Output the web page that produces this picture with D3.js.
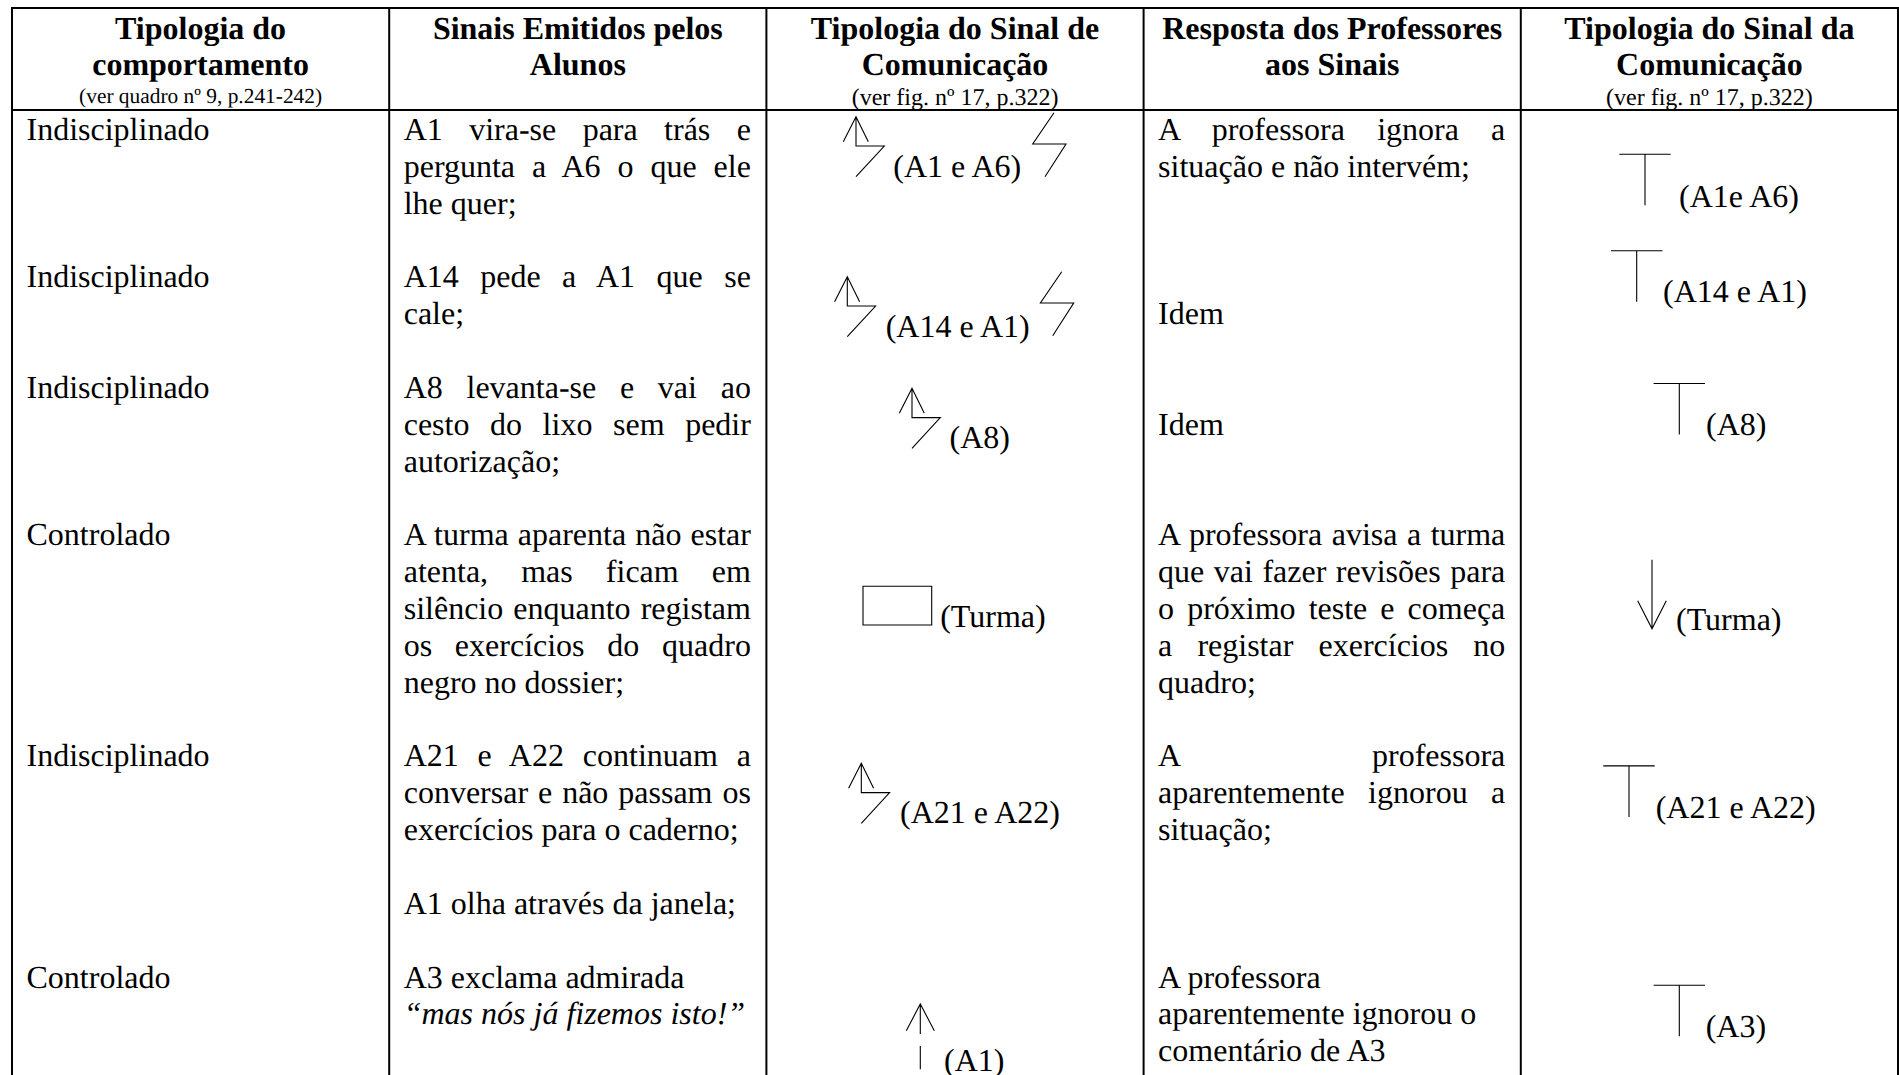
<!DOCTYPE html>
<html lang="pt">
<head>
<meta charset="utf-8">
<title>Tipologia do comportamento e sinais de comunicação</title>
<style>
  html, body { margin: 0; padding: 0; background: #fff; overflow: hidden; }
  svg { display: block; }
  text { font-family: "Liberation Serif", "Times New Roman", serif; fill: #000; text-rendering: geometricPrecision; }
</style>
<script src="https://d3js.org/d3.v7.min.js"></script>
</head>
<body>
<svg id="table" width="1899" height="1075"></svg>
<script>
// table content, one entry per text line (empty string = blank line)
var headerTitles = [
  ["Tipologia do", "comportamento"],
  ["Sinais Emitidos pelos", "Alunos"],
  ["Tipologia do Sinal de", "Comunicação"],
  ["Resposta dos Professores", "aos Sinais"],
  ["Tipologia do Sinal da", "Comunicação"]
];
var headerNotes = ["(ver quadro nº 9, p.241-242)", "", "(ver fig. nº 17, p.322)", "", "(ver fig. nº 17, p.322)"];

var behaviourLines = [
  "Indisciplinado", "", "", "",
  "Indisciplinado", "", "",
  "Indisciplinado", "", "", "",
  "Controlado", "", "", "", "", "",
  "Indisciplinado", "", "", "", "", "",
  "Controlado"
];
var studentLines = [
  "A1 vira-se para trás e", "pergunta a A6 o que ele", "lhe quer;", "",
  "A14 pede a A1 que se", "cale;", "",
  "A8 levanta-se e vai ao", "cesto do lixo sem pedir", "autorização;", "",
  "A turma aparenta não estar", "atenta, mas ficam em", "silêncio enquanto registam", "os exercícios do quadro", "negro no dossier;", "",
  "A21 e A22 continuam a", "conversar e não passam os", "exercícios para o caderno;", "",
  "A1 olha através da janela;", "",
  "A3 exclama admirada", "“mas nós já fizemos isto!”"
];
var teacherLines = [
  "A professora ignora a", "situação e não intervém;", "", "", "",
  "Idem", "", "",
  "Idem", "", "",
  "A professora avisa a turma", "que vai fazer revisões para", "o próximo teste e começa", "a registar exercícios no", "quadro;", "",
  "A professora", "aparentemente ignorou a", "situação;", "", "", "",
  "A professora", "aparentemente ignorou o", "comentário de A3"
];
var italicLines = ["“mas nós já fizemos isto!”"];
var firstRaggedLine = 23; // last block is not justified

var signalLabels = ["(A1 e A6)", "(A14 e A1)", "(A8)", "(Turma)", "(A21 e A22)", "(A1)"];
var signalSigns = [["arrowBolt", "bolt"], ["arrowBolt", "bolt"], ["arrowBolt"], ["box"], ["arrowBolt"], ["brokenArrow"]];
var responseLabels = ["(A1e A6)", "(A14 e A1)", "(A8)", "(Turma)", "(A21 e A22)", "(A3)"];
var responseSigns = [["tee"], ["tee"], ["tee"], ["downArrow"], ["tee"], ["tee"]];

// layout
var WIDTH = 1899, HEIGHT = 1075;
var BODY_SIZE = 32, TITLE_SIZE = 32;
var NOTE_SIZES = [21.4, 0, 24, 0, 24];
var NOTE_BASELINES = [103, 0, 104.5, 0, 104.5];
var CELL_PAD = 14.5;
var TOP = 8, HEADER_BOTTOM = 110;

// offsets of signs and labels inside their column / pixel row
var signalPlaces = [
  {signs: [[856, 116.7], [1054, 112.7]], label: [893.3, 176.5]},
  {signs: [[847.3, 276.7], [1061.7, 271.7]], label: [885.7, 336.5]},
  {signs: [[912, 388.3]], label: [949.5, 448]},
  {signs: [[863, 586.3]], label: [940.2, 626.5]},
  {signs: [[861.3, 763.3]], label: [900, 823]},
  {signs: [[920.3, 1004]], label: [944, 1070.5]}
];
var responsePlaces = [
  {signs: [[1645, 154.3]], label: [1679, 206.5]},
  {signs: [[1636.7, 250.7]], label: [1663, 301.5]},
  {signs: [[1679.3, 383.5]], label: [1706, 435]},
  {signs: [[1652, 559.8]], label: [1676, 630]},
  {signs: [[1629, 765.9]], label: [1655.7, 818]},
  {signs: [[1679.3, 985.3]], label: [1705.7, 1036.5]}
];

var svg = d3.select("#table");
var columns = d3.scaleBand().domain(d3.range(5)).range([12, 1898]);
var lineY = d3.scaleLinear().domain([0, 25]).range([140, 140 + 25 * 36.85]);

// sign shapes, drawn from their anchor point
var signShapes = {
  arrowBolt: function (p) {
    p.moveTo(-12.7, 25); p.lineTo(0, 0); p.lineTo(12.3, 25);
    p.moveTo(0, 0); p.lineTo(0, 29.3); p.lineTo(28.3, 29.3); p.lineTo(0, 60);
  },
  bolt: function (p) {
    p.moveTo(0, 0); p.lineTo(-21.3, 31.3); p.lineTo(12, 31.3); p.lineTo(-9, 64);
  },
  box: function (p) {
    p.rect(0, 0, 68.7, 38.7);
  },
  brokenArrow: function (p) {
    p.moveTo(-14, 26.7); p.lineTo(0, 0); p.lineTo(14, 26.7);
    p.moveTo(0, 0); p.lineTo(0, 30);
    p.moveTo(0, 42); p.lineTo(0, 65.3);
  },
  tee: function (p) {
    p.moveTo(-25.7, 0); p.lineTo(25.7, 0);
    p.moveTo(0, 0); p.lineTo(0, 51);
  },
  downArrow: function (p) {
    p.moveTo(0, 0); p.lineTo(0, 68.9);
    p.moveTo(-14.3, 40.9); p.lineTo(0, 68.9); p.lineTo(14.3, 40.9);
  }
};

function signPath(name) {
  var p = d3.path();
  signShapes[name](p);
  return p.toString();
}

// grid lines
var edges = columns.domain().map(function (c) { return columns(c); }).concat(columns.range()[1]);
svg.append("g").selectAll("line").data(edges).join("line")
  .attr("x1", function (d) { return d; })
  .attr("x2", function (d) { return d; })
  .attr("y1", TOP - 1)
  .attr("y2", HEIGHT)
  .attr("stroke", "#000")
  .attr("stroke-width", 2);

svg.append("g").selectAll("line").data([TOP, HEADER_BOTTOM]).join("line")
  .attr("x1", columns.range()[0] - 1)
  .attr("x2", columns.range()[1] + 1)
  .attr("y1", function (d) { return d; })
  .attr("y2", function (d) { return d; })
  .attr("stroke", "#000")
  .attr("stroke-width", 2);

// header
var header = svg.append("g").selectAll("g").data(headerTitles).join("g")
  .attr("transform", function (d, i) { return "translate(" + (columns(i) + columns.bandwidth() / 2) + ",0)"; })
  .attr("text-anchor", "middle");

header.selectAll("text.title").data(function (d) { return d; }).join("text")
  .attr("class", "title")
  .attr("y", function (d, i) { return 39 + i * 36; })
  .attr("font-size", TITLE_SIZE)
  .attr("font-weight", "bold")
  .text(function (d) { return d; });

header.append("text")
  .attr("y", function (d, i) { return NOTE_BASELINES[i]; })
  .attr("font-size", function (d, i) { return NOTE_SIZES[i]; })
  .text(function (d, i) { return headerNotes[i]; });

// body text
function drawLines(lines, column, justified) {
  var x = columns(column) + CELL_PAD;
  var width = columns.bandwidth() - CELL_PAD * 2 - 1;
  var g = svg.append("g");
  lines.forEach(function (line, i) {
    if (line === "") return;
    var t = g.append("text")
      .attr("x", x)
      .attr("y", lineY(i))
      .attr("font-size", BODY_SIZE)
      .attr("font-style", italicLines.indexOf(line) >= 0 ? "italic" : "normal")
      .text(line);
    // stretch every line of a paragraph except its last one
    var next = lines[i + 1];
    var gaps = line.split(" ").length - 1;
    if (justified && next && i < firstRaggedLine && gaps > 0) {
      var spare = width - t.node().getComputedTextLength();
      if (spare > 0) t.attr("word-spacing", spare / gaps);
    }
  });
}

drawLines(behaviourLines, 0, false);
drawLines(studentLines, 1, true);
drawLines(teacherLines, 3, true);

// signs and their labels
function drawSigns(labels, signs, places) {
  var row = svg.append("g").selectAll("g").data(labels).join("g");

  row.append("text")
    .attr("x", function (d, i) { return places[i].label[0]; })
    .attr("y", function (d, i) { return places[i].label[1]; })
    .attr("font-size", BODY_SIZE)
    .text(function (d) { return d; });

  row.selectAll("path")
    .data(function (d, i) {
      return signs[i].map(function (name, k) { return {name: name, at: places[i].signs[k]}; });
    })
    .join("path")
    .attr("transform", function (d) { return "translate(" + d.at[0] + "," + d.at[1] + ")"; })
    .attr("d", function (d) { return signPath(d.name); })
    .attr("fill", "none")
    .attr("stroke", "#000")
    .attr("stroke-width", 1.1);
}

drawSigns(signalLabels, signalSigns, signalPlaces);
drawSigns(responseLabels, responseSigns, responsePlaces);
</script>
</body>
</html>
